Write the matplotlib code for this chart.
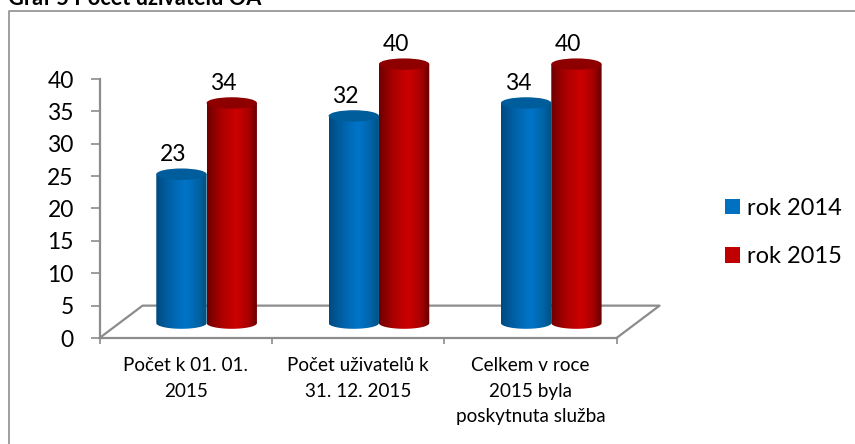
import matplotlib
matplotlib.use('Agg')
import matplotlib.pyplot as plt
import numpy as np
from matplotlib.colors import LinearSegmentedColormap
from matplotlib.lines import Line2D
from matplotlib.patches import Ellipse, Patch, PathPatch
from matplotlib.path import Path

categories = ['Počet k 01. 01.\n2015', 'Počet uživatelů k\n31. 12. 2015',
              'Celkem v roce\n2015 byla\nposkytnuta služba']
rok_2014 = [23, 32, 34]
rok_2015 = [34, 40, 40]
series_names = ['rok 2014', 'rok 2015']
y_ticks = [0, 5, 10, 15, 20, 25, 30, 35, 40]

plt.rcParams['font.family'] = ['Lato', 'DejaVu Sans']
W, H = 855, 444
GRAY = '#8c8c8c'

fig = plt.figure(figsize=(W / 100, H / 100), dpi=100)
ax = fig.add_axes([99.5 / W, 1 - 338 / H, 517 / W, 259 / H])

# picture frame, runs off the image on the right and bottom
fig.add_artist(Line2D([8.5 / W, 8.5 / W, 1], [0, 1 - 11.5 / H, 1 - 11.5 / H], color='#8f8f8f', lw=1.2))
# the title is cut by the top edge in the reference too
fig.text(8 / W, 1 - 5 / H, 'Graf 5 Počet uživatelů OA', fontsize=15.7, fontweight='bold', color='black', va='baseline')

depth_x = 0.25   # 3d floor depth in category units
depth_y = 5.0
base = 2.3
bar_w = 0.292
rx = bar_w / 2
ry = 0.88

blue_map = LinearSegmentedColormap.from_list('b', [(0, '#004a80'), (0.3, '#0064ac'), (0.58, '#0075ca'), (0.82, '#0064a8'), (1, '#00507f')])
red_map = LinearSegmentedColormap.from_list('r', [(0, '#6e0000'), (0.28, '#aa0000'), (0.58, '#cc0000'), (0.82, '#a80000'), (1, '#640000')])
grad = np.linspace(0, 1, 256).reshape(1, -1)


def cylinder(x0, val, cmap, top_col, z):
    x1 = x0 + bar_w
    top = base + val
    t = np.linspace(np.pi, 2 * np.pi, 40)
    xs = x0 + rx + rx * np.cos(t)
    ys = base + ry * np.sin(t)
    verts = list(zip(xs, ys)) + [(x1, top), (x0, top), (x0, base)]
    clip = PathPatch(Path(verts), transform=ax.transData, fc='none', ec='none', clip_on=False)
    ax.add_patch(clip)
    im = ax.imshow(grad, cmap=cmap, aspect='auto', extent=[x0, x1, base - ry, top], zorder=z)
    im.set_clip_box(fig.bbox)
    im.set_clip_path(clip)
    ax.add_patch(Ellipse((x0 + rx, top), bar_w, ry * 2, fc=top_col, ec='none', zorder=z + 0.1, clip_on=False))


x_pos = np.arange(len(categories))
for i in x_pos:
    left = i + 0.5 + 0.243 / 2 - bar_w
    cylinder(left, rok_2014[i], blue_map, '#005d9b', 3)
    cylinder(left + bar_w, rok_2015[i], red_map, '#8e0000', 4)
    ax.annotate(str(rok_2014[i]), (left + rx, base + rok_2014[i]), xytext=(-6, 6.5), textcoords='offset points',
                ha='center', va='bottom', fontsize=16.5, color='black', zorder=6, annotation_clip=False)
    ax.annotate(str(rok_2015[i]), (left + bar_w + rx, base + rok_2015[i]), xytext=(-6, 6.5), textcoords='offset points',
                ha='center', va='bottom', fontsize=16.5, color='black', zorder=6, annotation_clip=False)

# floor of the 3d box
ax.plot([0, depth_x, 3 + depth_x, 3], [0, depth_y, depth_y, 0], color=GRAY, lw=1.6, clip_on=False, zorder=1)

ax.set_xlim(0, 3)
ax.set_ylim(0, 40)
ax.patch.set_visible(False)
for s in ['top', 'right']:
    ax.spines[s].set_visible(False)
for s in ['left', 'bottom']:
    ax.spines[s].set_color(GRAY)
    ax.spines[s].set_linewidth(1.6)
    ax.spines[s].set_zorder(2)

ax.set_yticks(y_ticks)
ax.tick_params(axis='y', length=6.5, width=1.2, color=GRAY, labelsize=16.5, pad=12)
ax.set_xticks([0, 1, 2, 3])
ax.set_xticklabels([])
ax.tick_params(axis='x', which='major', length=4.5, width=1.2, color=GRAY)
ax.set_xticks([0.5, 1.5, 2.5], minor=True)
ax.set_xticklabels(categories, minor=True, fontsize=13.6, linespacing=1.6, va='top')
ax.tick_params(axis='x', which='minor', length=0, pad=14)

handles = [Patch(fc='#0070c0', ec='none'), Patch(fc='#c00000', ec='none')]
fig.legend(handles, series_names, loc='center left', bbox_to_anchor=(725 / W, 1 - 232.5 / H), frameon=False,
           fontsize=17, handlelength=0.64, handleheight=0.64, handletextpad=0.3, labelspacing=1.17,
           borderpad=0, borderaxespad=0)

fig.savefig('out.png', dpi=100)
